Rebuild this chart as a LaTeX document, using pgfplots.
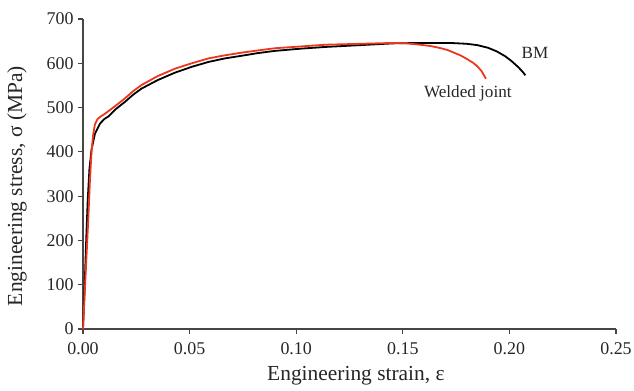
\documentclass[border=0pt]{standalone}
\usepackage{pgfplots}
\pgfplotsset{compat=1.18}
\usepackage{fontspec}
\setmainfont{Liberation Serif}
\definecolor{axgray}{RGB}{70,70,70}
\definecolor{wred}{RGB}{235,55,30}
\begin{document}
\begin{tikzpicture}
\begin{axis}[
  at={(0,0)}, anchor=south west,
  scale only axis, width=533bp, height=310bp,
  xmin=0, xmax=0.25, ymin=0, ymax=700,
  axis x line*=bottom, axis y line*=left,
  axis line style={-, axgray, line width=1.4bp},
  xtick={0,0.05,0.10,0.15,0.20,0.25},
  ytick={0,100,...,700},
  tick style={axgray, line width=1.2bp},
  tick align=outside, major tick length=5bp,
  xticklabel style={/pgf/number format/fixed, /pgf/number format/fixed zerofill, /pgf/number format/precision=2, yshift=-5bp},
  yticklabel style={xshift=-1bp},
  scaled x ticks=false,
  /pgf/number format/assume math mode=true,
  tick label style={font=\fontsize{18}{21}\selectfont, text=black!85},
  label style={font=\fontsize{21.5}{25}\selectfont, text=black!85},
  xlabel={Engineering strain, ε},
  ylabel={Engineering stress, σ (MPa)},
  xlabel style={at={(axis description cs:0.512,0)}, anchor=center, yshift=-47bp},
  ylabel style={at={(axis description cs:0,0.461)}, anchor=center, yshift=66bp},
  clip=false,
]
\addplot[black, line width=1.8bp] coordinates {
(0,0) (0.0008,100) (0.0015,200) (0.0022,290) (0.0030,360) (0.0040,405)
(0.0056,441) (0.0080,464) (0.0100,474) (0.0119,480) (0.0155,497) (0.0197,513)
(0.0235,529) (0.0275,543) (0.0350,562) (0.0432,579) (0.0510,592) (0.0588,603)
(0.0665,611) (0.0744,617) (0.082,623) (0.090,628) (0.102,633) (0.114,637)
(0.130,641) (0.1455,645) (0.160,646) (0.172,646) (0.180,644) (0.185,641)
(0.190,635) (0.194,627) (0.198,616) (0.201,605) (0.204,592) (0.206,582) (0.2075,573)
};
\addplot[wred, line width=1.8bp] coordinates {
(0,0) (0.0012,120) (0.0024,240) (0.0033,340) (0.0040,400) (0.0048,440) (0.0056,462)
(0.0068,474) (0.0080,479) (0.0103,486) (0.0150,503) (0.0197,521) (0.0235,537)
(0.0275,551) (0.0350,571) (0.0432,588) (0.0510,600) (0.0588,611) (0.0665,618)
(0.0744,624) (0.082,629) (0.090,634) (0.102,638) (0.114,642) (0.130,644) (0.1455,646)
(0.152,645) (0.158,642) (0.163,639) (0.167,635) (0.171,630) (0.174,624)
(0.177,618) (0.180,610) (0.183,601) (0.185,593) (0.187,582) (0.189,565)
};
\node[font=\fontsize{17.2}{20}\selectfont, text=black!85] at (axis cs:0.212,623) {BM};
\node[font=\fontsize{17.2}{20}\selectfont, text=black!85] at (axis cs:0.1805,533) {Welded joint};
\end{axis}
\pgfresetboundingbox
\path[use as bounding box] (-83bp,-62bp) rectangle (551bp,329bp);
\end{tikzpicture}
\end{document}
